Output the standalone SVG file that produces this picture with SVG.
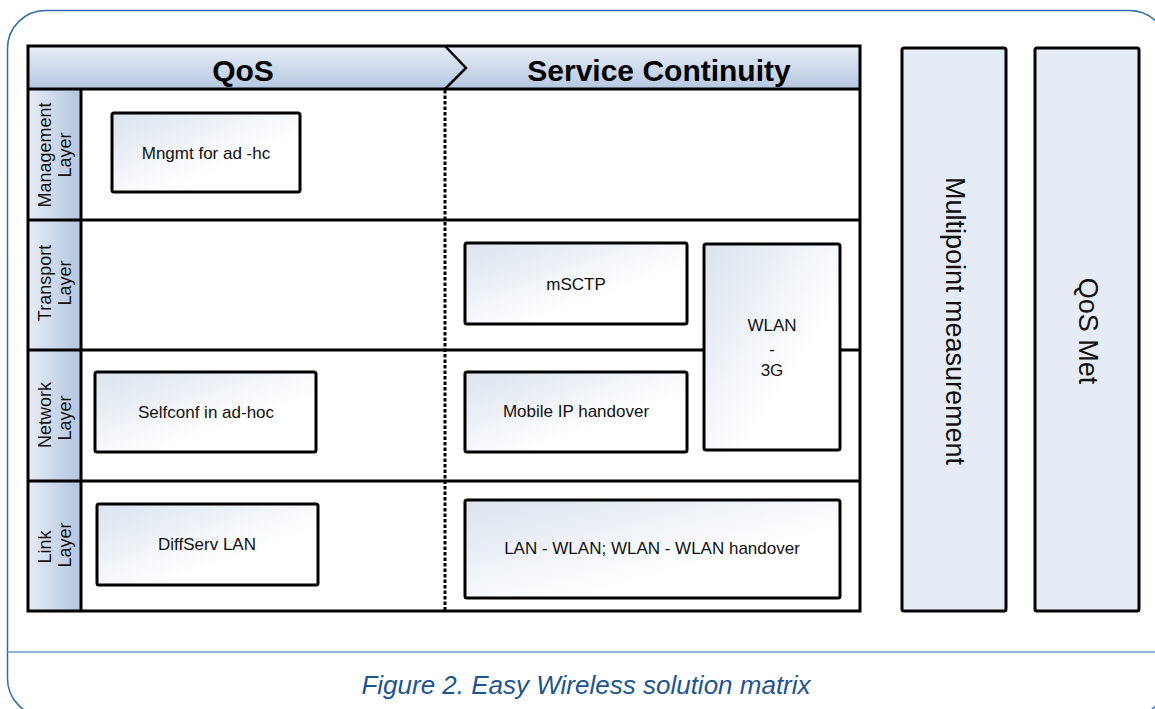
<svg xmlns="http://www.w3.org/2000/svg" width="1155" height="709" viewBox="0 0 1155 709">
<defs>
<linearGradient id="hdr" x1="0" y1="0" x2="0" y2="1">
<stop offset="0" stop-color="#e8eef7"/>
<stop offset="1" stop-color="#b5c7e1"/>
</linearGradient>
<linearGradient id="lbl" x1="0" y1="0" x2="1" y2="0">
<stop offset="0" stop-color="#e6ecf5"/>
<stop offset="1" stop-color="#b3c5df"/>
</linearGradient>
<linearGradient id="box" x1="0" y1="0" x2="1" y2="1">
<stop offset="0" stop-color="#dae3ef"/>
<stop offset="0.65" stop-color="#ffffff"/>
<stop offset="1" stop-color="#ffffff"/>
</linearGradient>
<style>
.grid{fill:none;stroke:#000;stroke-width:3}
.bx{fill:url(#box);stroke:#000;stroke-width:3}
.col{fill:#e6ecf6;stroke:#000;stroke-width:3}
.t{font-family:"Liberation Sans",Arial,sans-serif;font-size:17px;fill:#111;text-anchor:middle}
.lt{font-family:"Liberation Sans",Arial,sans-serif;font-size:18px;fill:#111;text-anchor:middle}
.ht{font-family:"Liberation Sans",Arial,sans-serif;font-size:30px;font-weight:bold;fill:#000;text-anchor:middle}
.ct{font-family:"Liberation Sans",Arial,sans-serif;font-size:27px;fill:#111;text-anchor:middle}
.cap{font-family:"Liberation Sans",Arial,sans-serif;font-size:26px;font-style:italic;fill:#1d5592;text-anchor:middle}
</style>
</defs>
<rect width="1155" height="709" fill="#fff"/>
<g id="frame">
<rect x="7.5" y="10.5" width="1160" height="706" rx="38" ry="38" fill="none" stroke="#2f6ea6" stroke-width="1.5"/>
<line x1="7.5" y1="652" x2="1155" y2="652" stroke="#6f9ccc" stroke-width="1.5"/>
<text class="cap" x="586" y="694">Figure 2. Easy Wireless solution matrix</text>
</g>
<g id="header">
<rect x="28" y="46" width="832" height="43" fill="url(#hdr)"/>
<rect x="28" y="89" width="53" height="522" fill="url(#lbl)"/>
<rect x="81" y="89" width="779" height="522" fill="#fff"/>
<path d="M445,46 L466,68 L445,89" fill="none" stroke="#000" stroke-width="2.5" stroke-linejoin="miter"/>
<text class="ht" x="243" y="81">QoS</text>
<text class="ht" x="659" y="81">Service Continuity</text>
</g>
<g id="grid">
<rect class="grid" x="28" y="46" width="832" height="565"/>
<line class="grid" x1="28" y1="89" x2="860" y2="89"/>
<line class="grid" x1="28" y1="220" x2="860" y2="220"/>
<line class="grid" x1="28" y1="350" x2="860" y2="350"/>
<line class="grid" x1="28" y1="481" x2="860" y2="481"/>
<line class="grid" x1="81" y1="89" x2="81" y2="611"/>
</g>
<g id="connectors">
<line x1="445" y1="90" x2="445" y2="610" stroke="#000" stroke-width="3" stroke-dasharray="3.5 2"/>
</g>
<g id="layer-labels">
<g id="lbl-management"><text class="lt" transform="translate(50.5,155) rotate(-90)">Management</text><text class="lt" transform="translate(70.5,155) rotate(-90)">Layer</text></g>
<g id="lbl-transport"><text class="lt" transform="translate(50.5,283) rotate(-90)">Transport</text><text class="lt" transform="translate(70.5,283) rotate(-90)">Layer</text></g>
<g id="lbl-network"><text class="lt" transform="translate(50.5,415) rotate(-90)">Network</text><text class="lt" transform="translate(70.5,418) rotate(-90)">Layer</text></g>
<g id="lbl-link"><text class="lt" transform="translate(50.5,547) rotate(-90)">Link</text><text class="lt" transform="translate(70.5,545) rotate(-90)">Layer</text></g>
</g>
<g id="mngmt"><rect class="bx" x="112" y="113" width="188" height="79" rx="2"/><text class="t" x="206" y="159">Mngmt for ad -hc</text></g>
<g id="selfconf"><rect class="bx" x="95" y="372" width="221" height="80" rx="2"/><text class="t" x="206" y="418">Selfconf in ad-hoc</text></g>
<g id="diffserv"><rect class="bx" x="97" y="504" width="221" height="81" rx="2"/><text class="t" x="207" y="550">DiffServ LAN</text></g>
<g id="msctp"><rect class="bx" x="465" y="243" width="222" height="81" rx="2"/><text class="t" x="576" y="290">mSCTP</text></g>
<g id="mobileip"><rect class="bx" x="465" y="372" width="222" height="80" rx="2"/><text class="t" x="576" y="417">Mobile IP handover</text></g>
<g id="wlan3g"><rect class="bx" x="704" y="244" width="136" height="206" rx="2"/><text class="t" x="772" y="331">WLAN</text><text class="t" x="772" y="355">-</text><text class="t" x="772" y="376">3G</text></g>
<g id="lanwlan"><rect class="bx" x="465" y="500" width="375" height="98" rx="2"/><text class="t" x="652" y="554">LAN - WLAN; WLAN - WLAN handover</text></g>
<g id="multipoint"><rect class="col" x="902" y="48" width="104" height="563" rx="2"/><text class="ct" transform="translate(946,321) rotate(90)">Multipoint measurement</text></g>
<g id="qosmet"><rect class="col" x="1035" y="48" width="104" height="563" rx="2"/><text class="ct" transform="translate(1079,331) rotate(90)">QoS Met</text></g>
</svg>
